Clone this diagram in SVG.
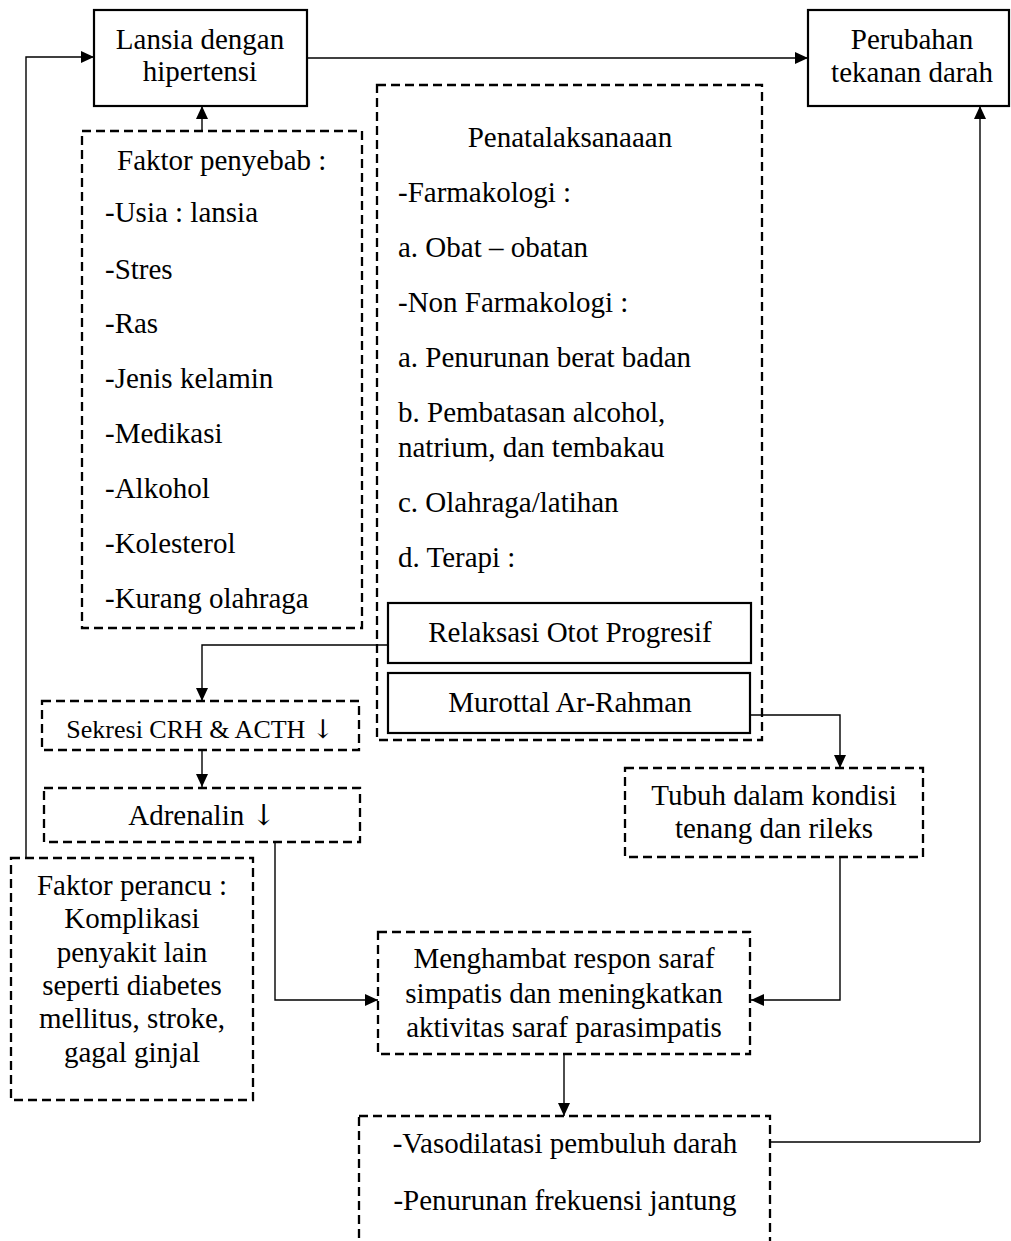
<svg xmlns="http://www.w3.org/2000/svg" width="1011" height="1241" viewBox="0 0 1011 1241">
<style>
text{font-family:"Liberation Serif","Times New Roman",serif;font-size:29px;fill:#000}
.c{text-anchor:middle}
.ar{font-family:"DejaVu Serif","DejaVu Sans",serif;font-weight:normal}
.solid{fill:#fff;stroke:#000;stroke-width:2.2}
.dash{fill:none;stroke:#000;stroke-width:2.3;stroke-dasharray:9 5}
.conn{fill:none;stroke:#000;stroke-width:1.4}
</style>
<defs>
<marker id="ah" markerUnits="userSpaceOnUse" markerWidth="14" markerHeight="12" refX="13" refY="6" orient="auto">
<path d="M0,0 L13,6 L0,12 z" fill="#000"/>
</marker>
</defs>
<rect width="1011" height="1241" fill="#fff"/>
<g id="connectors">
<path class="conn" d="M26,858 V57 H94" marker-end="url(#ah)"/>
<path class="conn" d="M307,58 H808" marker-end="url(#ah)"/>
<path class="conn" d="M202,131 V106" marker-end="url(#ah)"/>
<path class="conn" d="M980,1142 V106" marker-end="url(#ah)"/>
<path class="conn" d="M770,1142 H980"/>
<path class="conn" d="M388,645 H202 V701" marker-end="url(#ah)"/>
<path class="conn" d="M202,750 V787" marker-end="url(#ah)"/>
<path class="conn" d="M275,842 V1000 H378" marker-end="url(#ah)"/>
<path class="conn" d="M751,715 H840 V768" marker-end="url(#ah)"/>
<path class="conn" d="M840,857 V1000 H751" marker-end="url(#ah)"/>
<path class="conn" d="M564,1054 V1116" marker-end="url(#ah)"/>
</g>
<g id="lansia">
<rect class="solid" x="94" y="10" width="213" height="96"/>
<text class="c" x="200" y="49">Lansia dengan</text>
<text class="c" x="200" y="81">hipertensi</text>
</g>
<g id="perubahan">
<rect class="solid" x="808" y="10" width="201" height="96"/>
<text class="c" x="912" y="49">Perubahan</text>
<text class="c" x="912" y="82">tekanan darah</text>
</g>
<g id="faktor-penyebab">
<rect class="dash" x="82" y="131" width="280" height="497"/>
<text x="117" y="170">Faktor penyebab :</text>
<text x="105" y="222">-Usia : lansia</text>
<text x="105" y="279">-Stres</text>
<text x="105" y="333">-Ras</text>
<text x="105" y="388">-Jenis kelamin</text>
<text x="105" y="443">-Medikasi</text>
<text x="105" y="498">-Alkohol</text>
<text x="105" y="553">-Kolesterol</text>
<text x="105" y="608">-Kurang olahraga</text>
</g>
<g id="penatalaksanaan">
<rect class="dash" x="377" y="85" width="385" height="655"/>
<text class="c" x="570" y="147">Penatalaksanaaan</text>
<text x="398" y="202">-Farmakologi :</text>
<text x="398" y="257">a. Obat – obatan</text>
<text x="398" y="312">-Non Farmakologi :</text>
<text x="398" y="367">a. Penurunan berat badan</text>
<text x="398" y="422">b. Pembatasan alcohol,</text>
<text x="398" y="457">natrium, dan tembakau</text>
<text x="398" y="512">c. Olahraga/latihan</text>
<text x="398" y="567">d. Terapi :</text>
</g>
<g id="relaksasi">
<rect class="solid" x="388" y="603" width="363" height="60"/>
<text class="c" x="570" y="642">Relaksasi Otot Progresif</text>
</g>
<g id="murottal">
<rect class="solid" x="388" y="673" width="362" height="60"/>
<text class="c" x="570" y="712">Murottal Ar-Rahman</text>
</g>
<g id="sekresi">
<rect class="dash" x="42" y="701" width="317" height="49"/>
<text class="c" x="200" y="738" style="font-size:26px">Sekresi CRH &amp; ACTH <tspan class="ar">↓</tspan></text>
</g>
<g id="adrenalin">
<rect class="dash" x="44" y="788" width="316" height="54"/>
<text class="c" x="202" y="825">Adrenalin <tspan class="ar">↓</tspan></text>
</g>
<g id="faktor-perancu">
<rect class="dash" x="11" y="858" width="242" height="242"/>
<text class="c" x="132" y="895">Faktor perancu :</text>
<text class="c" x="132" y="928">Komplikasi</text>
<text class="c" x="132" y="962">penyakit lain</text>
<text class="c" x="132" y="995">seperti diabetes</text>
<text class="c" x="132" y="1028">mellitus, stroke,</text>
<text class="c" x="132" y="1062">gagal ginjal</text>
</g>
<g id="tubuh">
<rect class="dash" x="625" y="768" width="298" height="89"/>
<text class="c" x="774" y="805">Tubuh dalam kondisi</text>
<text class="c" x="774" y="838">tenang dan rileks</text>
</g>
<g id="menghambat">
<rect class="dash" x="378" y="932" width="372" height="122"/>
<text class="c" x="564" y="968">Menghambat respon saraf</text>
<text class="c" x="564" y="1003">simpatis dan meningkatkan</text>
<text class="c" x="564" y="1037">aktivitas saraf parasimpatis</text>
</g>
<g id="vasodilatasi">
<rect class="dash" x="359" y="1116" width="411" height="140"/>
<text class="c" x="565" y="1153">-Vasodilatasi pembuluh darah</text>
<text class="c" x="565" y="1210">-Penurunan frekuensi jantung</text>
</g>
</svg>
